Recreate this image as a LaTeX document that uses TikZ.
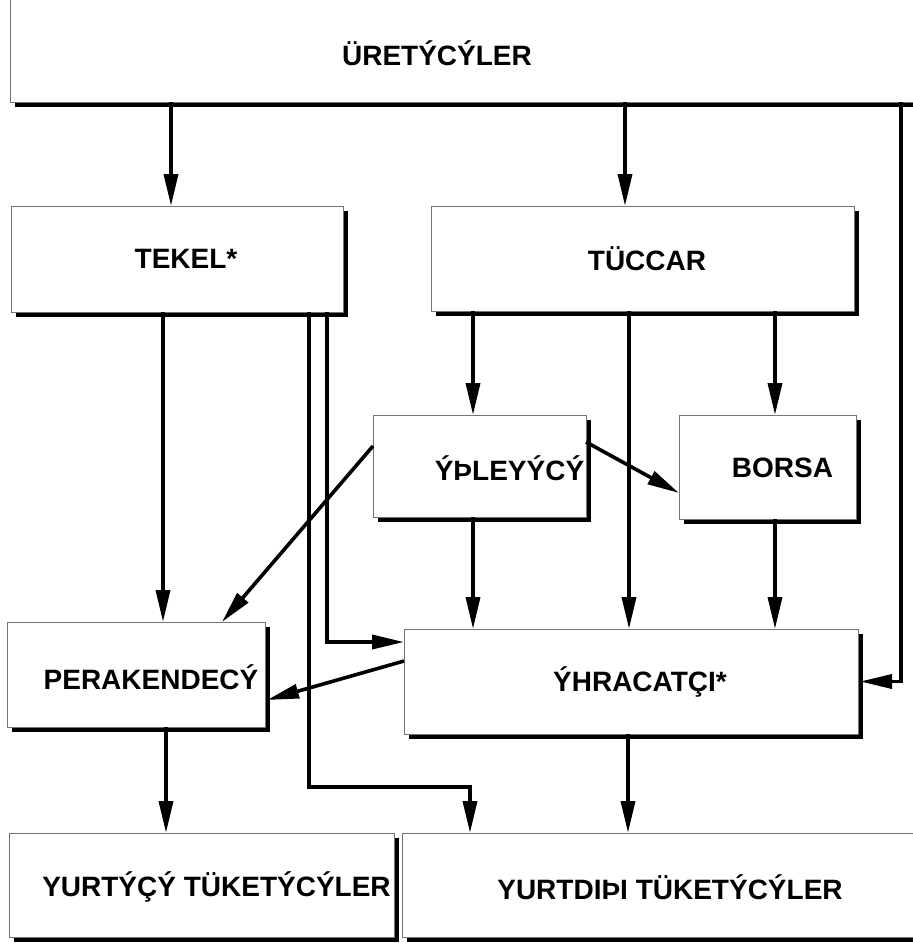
\documentclass[tikz,border=0pt]{standalone}
\usepackage{fontspec}
\setmainfont{Liberation Sans}
\usepackage{tikz}
\usetikzlibrary{positioning}
\usetikzlibrary{arrows.meta,shadows}

\begin{document}
\begin{tikzpicture}[x=1pt,y=-1pt,every node/.style={inner sep=0,outer sep=0,font=\bfseries\fontsize{28}{32}\selectfont},
    box/.style={draw=black!55,line width=0.8pt,fill=white,drop shadow={shadow xshift=5pt,shadow yshift=-5pt,fill=black,opacity=1}},
    conn/.style={line width=3.6pt,-{Triangle[length=32pt,width=14pt]}}]
    \useasboundingbox (0,0) rectangle (913,943);
    \clip (0,0) rectangle (913,943);
    \node[box,minimum width=990pt,minimum height=152pt,label={[xshift=-68pt,yshift=-27pt]center:ÜRETÝCÝLER}] (URT) at (505,26) {};
    \node[box,minimum width=332pt,minimum height=106pt,label={[xshift=9pt]center:TEKEL*}] (TKL) at (177,259) {};
    \node[box,minimum width=423pt,minimum height=105pt,label={[xshift=4.5pt]center:TÜCCAR}] (TCR) at (642.5,258.5) {};
    \node[box,minimum width=213pt,minimum height=102pt,label={[xshift=30pt,yshift=-2pt]center:ÝÞLEYÝCÝ}] (ISL) at (479.5,466) {};
    \node[box,minimum width=177pt,minimum height=104pt,label={[xshift=15pt,yshift=-1pt]center:BORSA}] (BRS) at (767.5,467) {};
    \node[box,minimum width=258pt,minimum height=105pt,label={[xshift=15pt,yshift=-3pt]center:PERAKENDECÝ}] (PRK) at (136,674.5) {};
    \node[box,minimum width=454pt,minimum height=105pt,label={[xshift=9pt]center:ÝHRACATÇI*}] (IHR) at (631,681.5) {};
    \node[box,minimum width=385pt,minimum height=104pt,label={[xshift=15pt,yshift=-2pt]center:YURTÝÇÝ TÜKETÝCÝLER}] (YIC) at (201.5,885) {};
    \node[box,minimum width=598pt,minimum height=104pt,label={[xshift=-31pt,yshift=-2pt]center:YURTDIÞI TÜKETÝCÝLER}] (YDS) at (701,885) {};
    \draw[conn] (URT.south -| 171,0) -- (TKL.north -| 171,0);
    \draw[conn] (URT.south -| 625,0) -- (TCR.north -| 625,0);
    \draw[conn] (URT.south -| 901,0) |- ([xshift=2pt]IHR.east);
    \draw[conn] (TKL.south -| 163,0) -- (PRK.north -| 163,0);
    \draw[conn] (TKL.south -| 327,0) |- (IHR.west |- 0,642);
    \draw[conn] (TKL.south -| 309,0) |- (470,787) -- (YDS.north -| 470,0);
    \draw[conn] (TCR.south -| 473,0) -- (ISL.north -| 473,0);
    \draw[conn] (TCR.south -| 629,0) -- (IHR.north -| 629,0);
    \draw[conn] (TCR.south -| 775,0) -- (BRS.north -| 775,0);
    \draw[conn] (ISL.east |- 0,442) -- (BRS.west |- 0,493);
    \draw[conn] (ISL.west |- 0,446) -- (PRK.north -| 222,0);
    \draw[conn] (ISL.south -| 473,0) -- (IHR.north -| 473,0);
    \draw[conn] (BRS.south -| 775,0) -- (IHR.north -| 775,0);
    \draw[conn] (IHR.west |- 0,661) -- ([xshift=2pt]PRK.east |- 0,700);
    \draw[conn] (PRK.south -| 166,0) -- (YIC.north -| 166,0);
    \draw[conn] (IHR.south -| 628,0) -- (YDS.north -| 628,0);
\end{tikzpicture}
\end{document}
